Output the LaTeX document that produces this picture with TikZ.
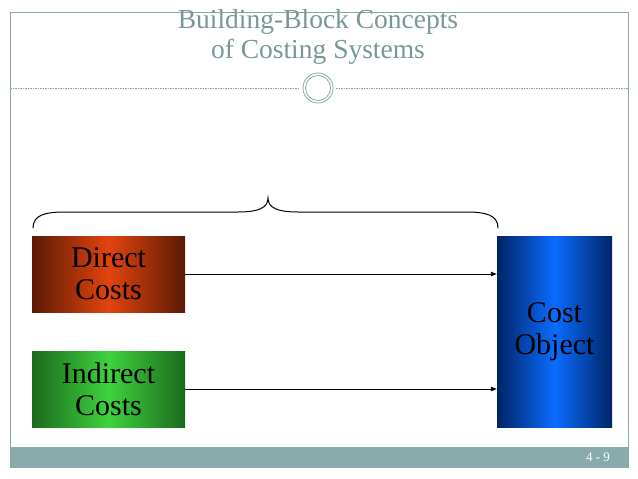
\documentclass[tikz,border=0pt]{standalone}
\usepackage{fontspec}
\setmainfont{Liberation Serif}
\usepackage{xcolor}
\usepackage{tikz}
\usetikzlibrary{calc,arrows.meta}
\definecolor{frame}{HTML}{8AA6A6}
\definecolor{title}{HTML}{7A9797}
\definecolor{bar}{HTML}{8AABAB}
\definecolor{redhi}{HTML}{E2440E}
\definecolor{redlo}{HTML}{5C1A04}
\definecolor{grnhi}{HTML}{3FD23F}
\definecolor{grnlo}{HTML}{1C6A1C}
\definecolor{bluhi}{HTML}{0A6CFF}
\definecolor{blulo}{HTML}{002466}
\tikzset{
  rim/.style={draw=frame, line width=0.8pt},
  sep/.style={draw=frame, dash pattern=on 1.5pt off 1pt, line width=0.6pt},
  ttl/.style={text=title, font=\fontsize{27.5}{30}\selectfont, align=center},
  block/.style={minimum width=153, minimum height=76, inner sep=0pt, align=center,
    font=\fontsize{30}{32}\selectfont, text=black},
  costbox/.style={block, left color=redlo, right color=redlo, middle color=redhi},
  indbox/.style={block, left color=grnlo, right color=grnlo, middle color=grnhi},
  objbox/.style={block, minimum width=115, minimum height=191,
    left color=blulo, right color=blulo, middle color=bluhi},
  flow/.style={draw=black, line width=0.9pt, -{Triangle[length=6pt,width=4.5pt]}},
  brc/.style={draw=black, line width=1pt, line cap=round},
}

\begin{document}
\begin{tikzpicture}[x=1pt, y=-1pt]
  \useasboundingbox (0,0) rectangle (638,479);

  % slide frame and footer
  \draw[rim] (10,12) rectangle (628,467);
  \fill[bar] (10,447) rectangle (628,467);
  \node[text=white, font=\fontsize{13}{15}\selectfont] (page) at (598,457) {4 - 9};

  % title
  \node[ttl] (head) at (318,37) {Building-Block Concepts\\of Costing Systems};

  % dashed rule with ring
  \coordinate (ring) at (318,88);
  \draw[sep] (10,88) -- ($(ring)+(-18,0)$);
  \draw[sep] ($(ring)+(18,0)$) -- (628,88);
  \draw[frame, line width=0.8pt] (ring) circle (15);
  \draw[frame, line width=0.8pt] (ring) circle (12.5);

  % blocks
  \node[costbox] (direct) at (108.5,274) {Direct\\Costs};
  \node[indbox] (indirect) at (108.5,389) {Indirect\\Costs};
  \node[objbox] (object) at (554.5,331.5) {Cost\\Object};

  % arrows
  \draw[flow] (direct.east) -- (direct.east -| object.west);
  \draw[flow] (indirect.east) -- (indirect.east -| object.west);

  % brace over the cost pools
  \coordinate (bl) at (33,228);
  \coordinate (br) at (498,228);
  \coordinate (tip) at (268,198);
  \draw[brc] (bl) .. controls (33,215) and (45,212) .. (65,212) -- (238,212)
    .. controls (258,212) and (268,208) .. (tip)
    .. controls (268,208) and (278,212) .. (298,212) -- (466,212)
    .. controls (486,212) and (498,215) .. (br);
\end{tikzpicture}
\end{document}
